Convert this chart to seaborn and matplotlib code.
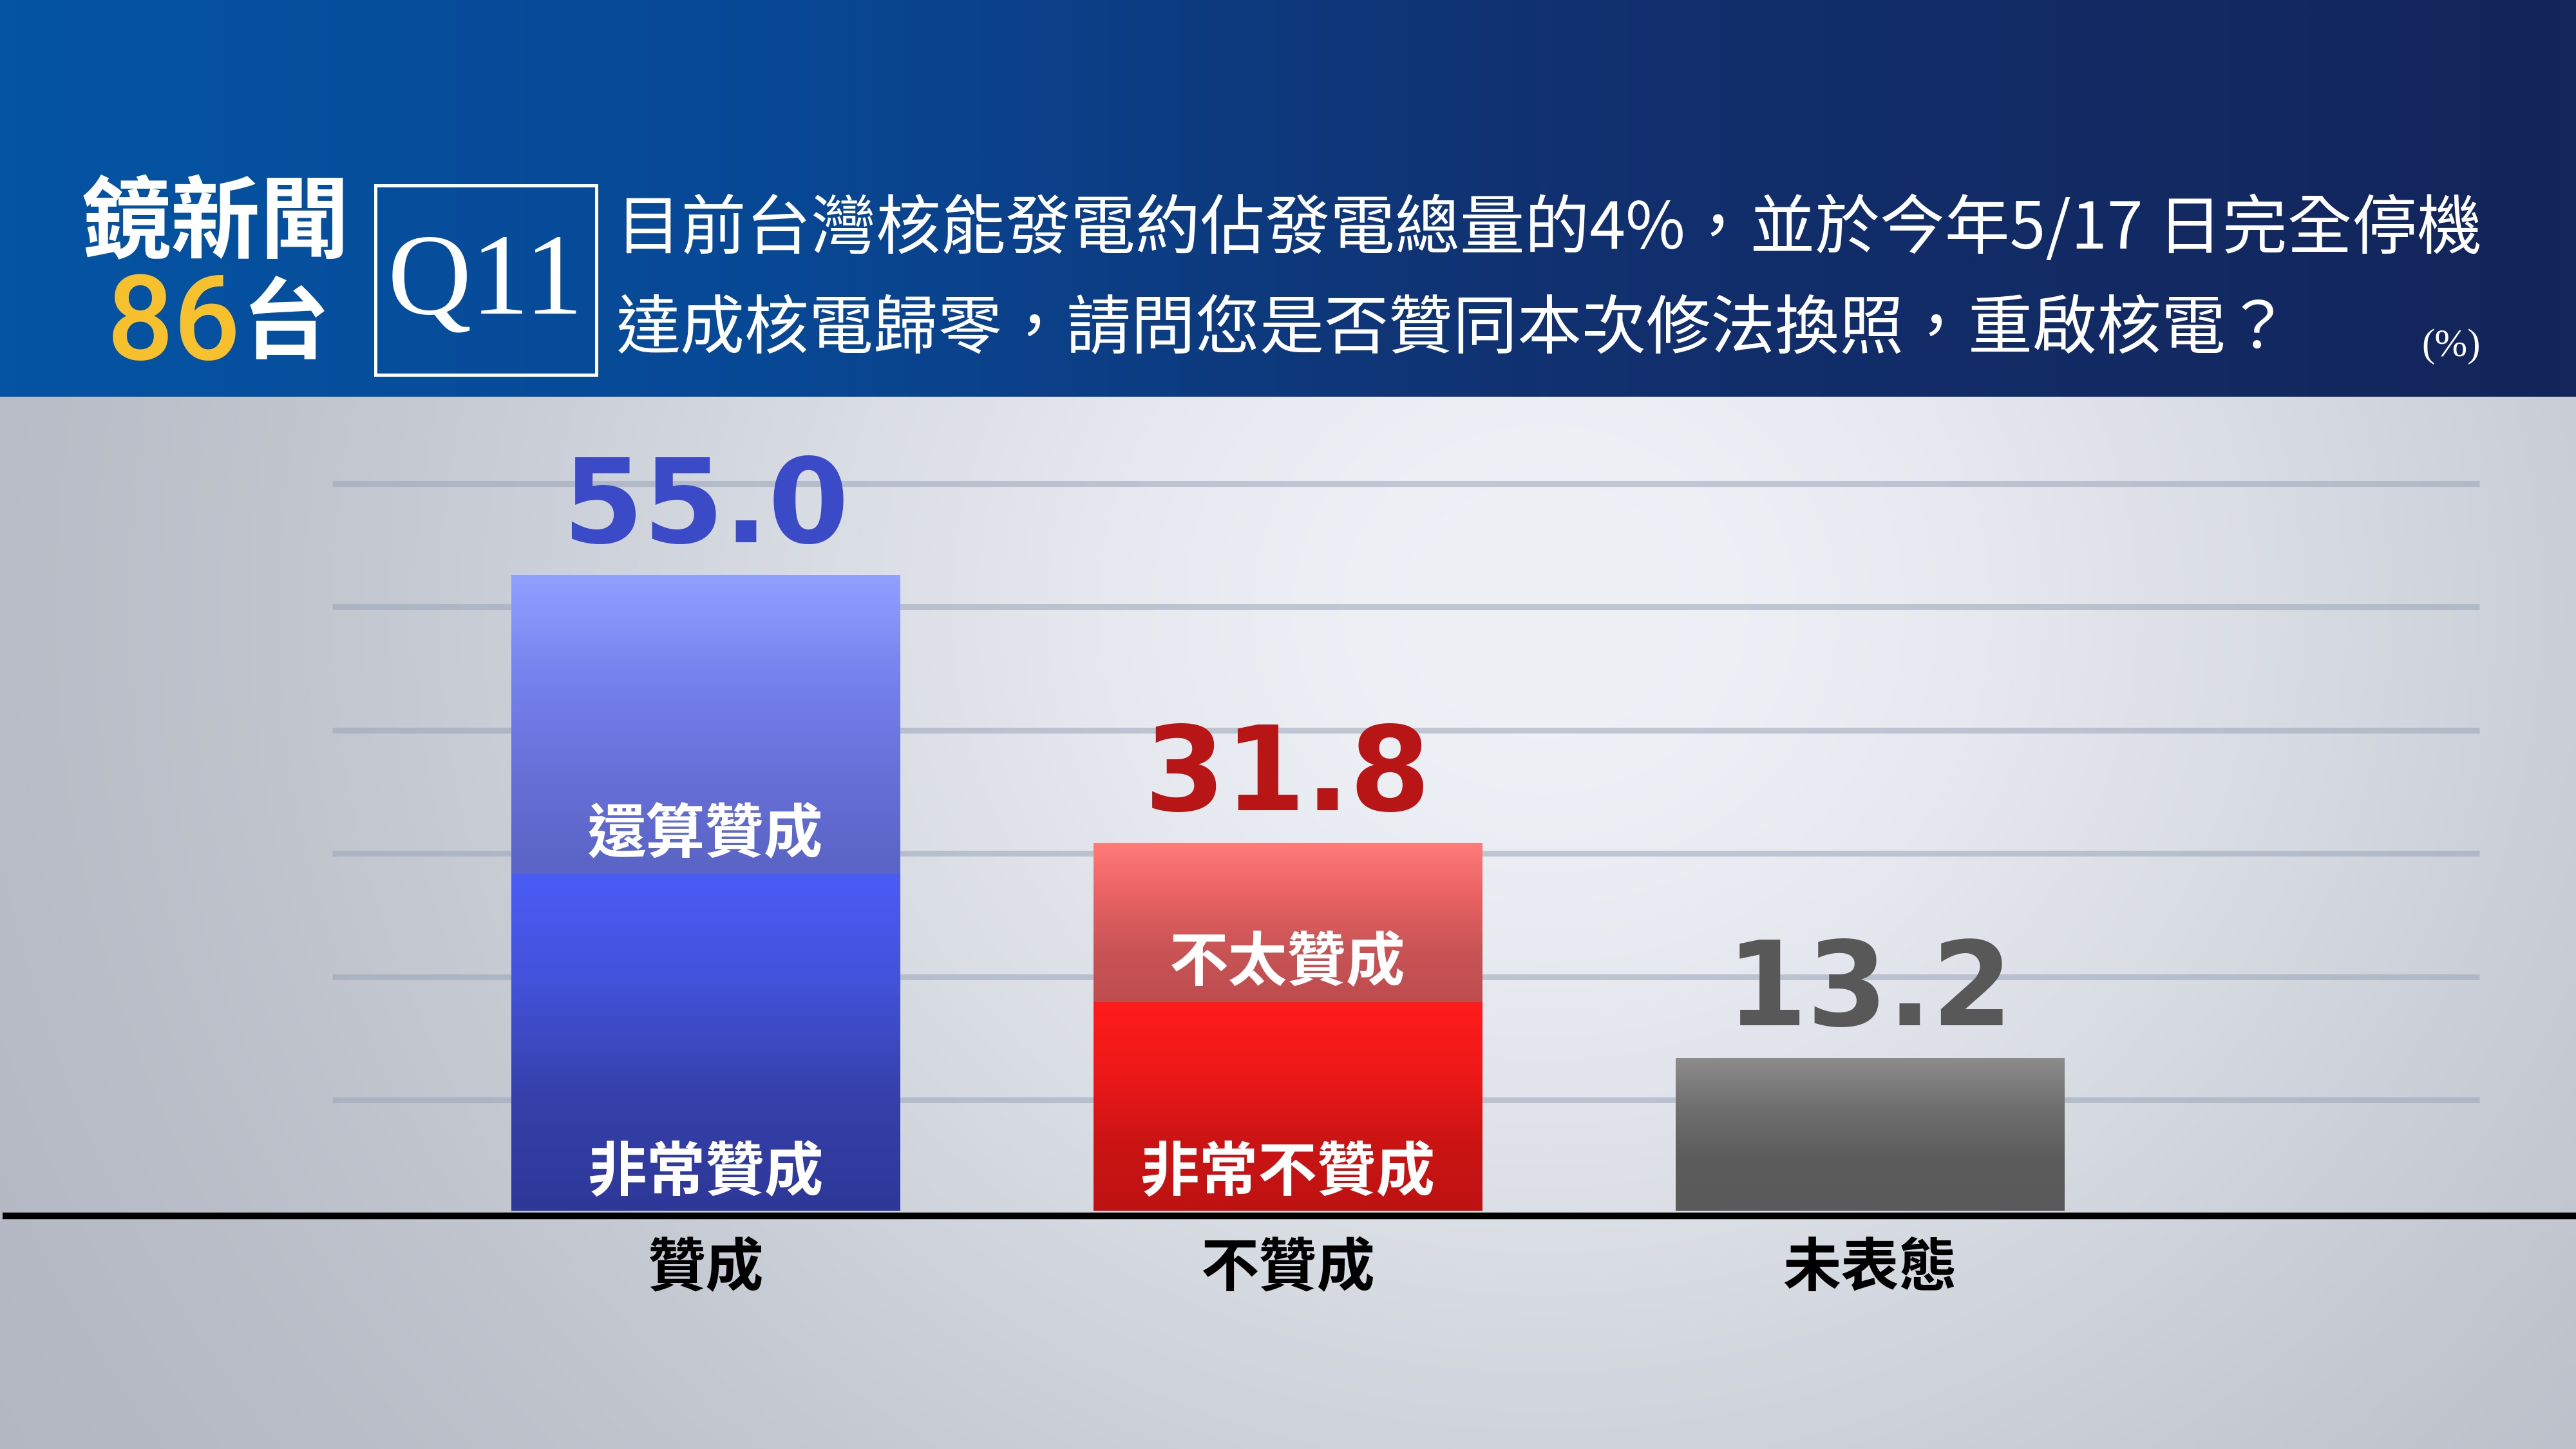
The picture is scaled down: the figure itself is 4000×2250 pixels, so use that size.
import numpy as np
import matplotlib
matplotlib.use("Agg")
import matplotlib.pyplot as plt
import matplotlib.transforms as mtransforms
from matplotlib.colors import LinearSegmentedColormap, to_rgb
from matplotlib.patches import Rectangle
import seaborn as sns

# ── Data ──────────────────────────────────────────────────────────────────────
categories   = ["贊成", "不贊成", "未表態"]
totals       = [55.0, 31.8, 13.2]
strong       = [29.1, 18.0, 0.0]          # 非常贊成 / 非常不贊成 (bottom segment)
strong_names = ["非常贊成", "非常不贊成", ""]
mild_names   = ["還算贊成", "不太贊成", ""]

question_1 = "目前台灣核能發電約佔發電總量的4%，並於今年5/17 日完全停機"
question_2 = "達成核電歸零，請問您是否贊同本次修法換照，重啟核電？"

# ── Style ─────────────────────────────────────────────────────────────────────
value_colors = ["#3B4BC8", "#B81616", "#585858"]
# gradient stops (bottom -> top) for upper and lower segment of each bar
upper_grad = [["#5A64C4", "#6670D8", "#7682EE", "#92A0FF"],
              ["#BE4C4E", "#C85456", "#E86262", "#FF7C79"],
              ["#5A5A5A", "#5C5C5C", "#6E6E6E", "#8C8C8C"]]
lower_grad = [["#2E3898", "#3540AA", "#4252D8", "#4B5CF6"],
              ["#BE1212", "#CC1414", "#EE1818", "#FF1C1C"],
              ["#5A5A5A", "#5A5A5A", "#5A5A5A", "#5A5A5A"]]

sns.set_theme(style="white")
plt.rcParams["font.family"] = ["Noto Sans CJK TC", "DejaVu Sans"]
CJK = ["Noto Sans CJK TC", "DejaVu Sans"]

W_PX, H_PX, DPI = 4000, 2250, 100
HEADER_PX = 617
fig = plt.figure(figsize=(W_PX / DPI, H_PX / DPI), dpi=DPI)
header_frac = 1 - HEADER_PX / H_PX

# ── Background ────────────────────────────────────────────────────────────────
bg = fig.add_axes([0, 0, 1, 1], zorder=0)
bg.set_xlim(0, 1)
bg.set_ylim(0, 1)
bg.axis("off")

hdr_cmap = LinearSegmentedColormap.from_list(
    "hdr", [(0, "#0454A3"), (0.3, "#084895"), (0.6, "#113170"), (1, "#13255A")])
bg.imshow(np.linspace(0, 1, 256).reshape(1, -1), cmap=hdr_cmap, aspect="auto",
          extent=[0, 1, header_frac, 1], interpolation="bicubic")

gh, gw = 160, 400
yy, xx = np.mgrid[0:1:gh * 1j, 0:1:gw * 1j]
f = np.exp(-(((xx - 0.6) / 0.45) ** 2 + ((yy - 0.2) / 1.0) ** 2))[..., None]
c_edge = np.array(to_rgb("#ADB2BD"))
c_mid = np.array(to_rgb("#EEF1F6"))
plot_bg = c_edge + f * (c_mid - c_edge)
bg.imshow(plot_bg, aspect="auto", extent=[0, 1, 0, header_frac],
          interpolation="bilinear")

# ── Chart ─────────────────────────────────────────────────────────────────────
ax = fig.add_axes([0, 0, 1, header_frac], zorder=1)
ax.patch.set_alpha(0)

sns.barplot(x=categories, y=totals, ax=ax, width=0.668, color="#888888",
            saturation=1, errorbar=None)
sns.barplot(x=categories, y=strong, ax=ax, width=0.668, color="#444444",
            saturation=1, errorbar=None)

total_bars = ax.patches[:3]
strong_bars = ax.patches[3:6]


def gradient_fill(patch, stops, y0, y1):
    cmap = LinearSegmentedColormap.from_list("g", stops)
    x0 = patch.get_x()
    ax.imshow(np.linspace(0, 1, 256).reshape(-1, 1), cmap=cmap, origin="lower",
              extent=[x0, x0 + patch.get_width(), y0, y1], aspect="auto",
              zorder=2, interpolation="bicubic")


for i, (tb, sb) in enumerate(zip(total_bars, strong_bars)):
    top, low = tb.get_height(), sb.get_height()
    gradient_fill(tb, upper_grad[i], low, top)
    if low > 0:
        gradient_fill(sb, lower_grad[i], 0, low)
    tb.set_visible(False)
    sb.set_visible(False)

    cx = tb.get_x() + tb.get_width() / 2
    ax.annotate(f"{totals[i]:.1f}", xy=(cx, top), xytext=(0, 37),
                textcoords="offset points", ha="center", va="baseline",
                fontsize=130, fontweight="bold", family="DejaVu Sans",
                color=value_colors[i], zorder=5)
    if strong_names[i]:
        ax.annotate(strong_names[i], xy=(cx, 0), xytext=(0, 42),
                    textcoords="offset points", ha="center", va="center",
                    fontsize=66, fontweight="bold", family=CJK, color="white",
                    zorder=5)
        ax.annotate(mild_names[i], xy=(cx, low), xytext=(0, 44),
                    textcoords="offset points", ha="center", va="center",
                    fontsize=66, fontweight="bold", family=CJK, color="white",
                    zorder=5)
    ax.annotate(categories[i], xy=(cx, 0), xytext=(0, -65),
                textcoords="offset points", ha="center", va="center",
                fontsize=65, fontweight="bold", family=CJK, color="black",
                zorder=5)

# decorative grid lines
for gy in np.arange(6) * 10.67 + 9.6:
    ax.axhline(gy, xmin=0.129, xmax=0.9625, color="#9AA6B8", alpha=0.55,
               lw=6.5, zorder=1, solid_capstyle="butt")

# baseline, shifted just below bar bottoms
base_tr = mtransforms.offset_copy(ax.get_yaxis_transform(), fig=fig, y=-5.5,
                                  units="points")
ax.plot([0.001, 1], [0, 0], transform=base_tr, color="black", lw=7.5,
        zorder=3, solid_capstyle="butt")

ax.set_xlim(-1.212, 3.213)
ax.set_ylim(-20.6, 70.4)
ax.set_xticks([])
ax.set_yticks([])
ax.set_xlabel("")
ax.set_ylabel("")
sns.despine(ax=ax, left=True, bottom=True)

# ── Header ────────────────────────────────────────────────────────────────────
def fx(px):
    return px / W_PX


def fy(px):
    return 1 - px / H_PX


fig.text(fx(335), fy(350), "鏡新聞", ha="center", va="center", fontsize=100,
         fontweight="bold", family=CJK, color="white")
fig.text(fx(374), fy(508), "86", ha="right", va="center", fontsize=132,
         fontweight="medium", family="Roboto", color="#F7C12E")
fig.text(fx(376), fy(506), "台", ha="left", va="center", fontsize=98,
         fontweight="bold", family=CJK, color="white")

fig.patches.append(Rectangle((fx(583), fy(582)), fx(926) - fx(583),
                             fy(288) - fy(582), transform=fig.transFigure,
                             fill=False, edgecolor="white", lw=3.6, zorder=3))
fig.text(fx(754), fy(487), "Q11", ha="center", va="baseline", fontsize=130,
         family="Liberation Serif", color="white")

fig.text(fx(957), fy(357), question_1, ha="left", va="center", fontsize=72.5,
         family=CJK, color="white")
fig.text(fx(957), fy(512), question_2, ha="left", va="center", fontsize=72,
         family=CJK, color="white")
fig.text(fx(3852), fy(538), "(%)", ha="right", va="center", fontsize=44,
         family="Liberation Serif", color="white")

fig.savefig("out.png", dpi=DPI)
